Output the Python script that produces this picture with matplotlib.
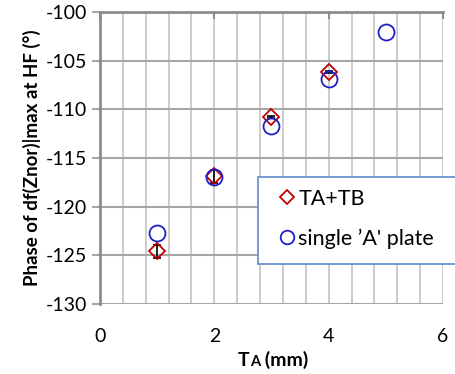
import matplotlib.pyplot as plt
from matplotlib.patches import Rectangle
from matplotlib.ticker import MultipleLocator
from matplotlib.offsetbox import TextArea, HPacker, AnchoredOffsetbox

plt.rcParams['font.family'] = ['Lato', 'DejaVu Sans']
plt.rcParams['axes.unicode_minus'] = False

# thickness of the 'A' plate (mm)
ta_pair = [1, 2, 3, 4]
phase_pair = [-124.6, -116.9, -110.8, -106.2]
err_pair = [0.7, 0.65, 0.1, 0.1]

ta_single = [1, 2, 3, 4, 5]
phase_single = [-122.7, -117.0, -111.7, -106.9, -102.1]

W, H = 456, 374
fig = plt.figure(figsize=(W / 100, H / 100), dpi=100)
ax = fig.add_axes([100 / W, 1 - 304 / H, 343 / W, 292 / H])

ax.set_xlim(0, 6)
ax.set_ylim(-130, -100)
ax.xaxis.set_major_locator(MultipleLocator(2))
ax.xaxis.set_minor_locator(MultipleLocator(0.4))
ax.yaxis.set_major_locator(MultipleLocator(5))

ax.grid(True, which='minor', axis='x', color='#c8c8c8', lw=1.3)
ax.grid(True, which='major', axis='x', color='#c8c8c8', lw=1.3)
ax.grid(True, which='major', axis='y', color='#a6a6a6', lw=1.5)
ax.set_axisbelow(True)

for side in ['left', 'top']:
    ax.spines[side].set_color('#8c8c8c')
    ax.spines[side].set_linewidth(2)
for side in ['right', 'bottom']:
    ax.spines[side].set_visible(False)

ax.tick_params(axis='y', direction='out', length=6, width=1.5, color='#a6a6a6',
               labelsize=14, pad=3)
ax.tick_params(axis='x', which='major', top=True, bottom=False, direction='in',
               length=5, width=1.5, color='#8c8c8c', labelsize=14, pad=17)
ax.tick_params(axis='x', which='minor', top=False, bottom=False)

ax.errorbar(ta_pair, phase_pair, yerr=err_pair, fmt='none', ecolor='black',
            elinewidth=1.2, capsize=3, capthick=1.2, zorder=3)
ax.plot(ta_pair, phase_pair, linestyle='none', marker='D', ms=8,
        mfc='none', mec='#c00000', mew=1.3, label='TA+TB', zorder=4)
ax.plot(ta_single, phase_single, linestyle='none', marker='o', ms=11.5,
        mfc='none', mec='#2020c8', mew=1.3, label="single \u2019A' plate", zorder=4)

ax.set_ylabel('Phase of df(Znor)|max at HF (\u00b0)', fontsize=13.5,
              fontweight='bold', labelpad=4)

# legend box runs off the right edge of the figure
ax.add_patch(Rectangle((258 / W, 1 - 264 / H), 220 / W, 87 / H,
                       transform=fig.transFigure, facecolor='white',
                       edgecolor='#5b8bc9', lw=1.2, zorder=5, clip_on=False))
leg = ax.legend(loc='upper left', bbox_to_anchor=(281 / W, 1 - 189 / H),
                bbox_transform=fig.transFigure, frameon=False, fontsize=15.5,
                borderpad=0, labelspacing=0.9, handlelength=0.6,
                handletextpad=0.2, borderaxespad=0, markerscale=0.85)
leg.set_zorder(6)

# x label with a small-caps 'A'
xl = HPacker(children=[TextArea('T', textprops=dict(fontsize=14, fontweight='bold')),
                       TextArea('A', textprops=dict(fontsize=10.5, fontweight='bold')),
                       TextArea(' (mm)', textprops=dict(fontsize=14, fontweight='bold'))],
             align='baseline', pad=0, sep=0)
box = AnchoredOffsetbox(loc='center', child=xl, frameon=False,
                        bbox_to_anchor=(273 / W, 1 - 360 / H),
                        bbox_transform=fig.transFigure, pad=0, borderpad=0)
fig.add_artist(box)

fig.savefig('out.png', dpi=100)
